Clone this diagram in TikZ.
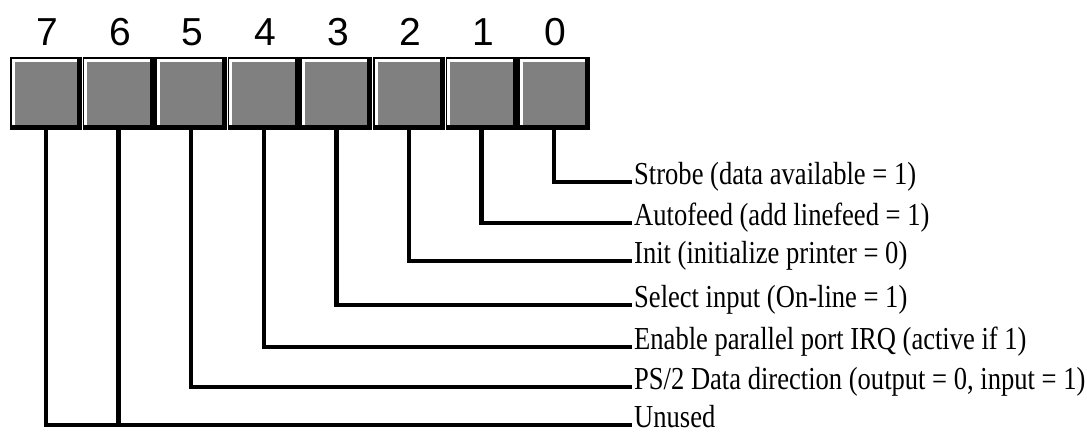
\documentclass[tikz,border=0pt]{standalone}
\usepackage{fontspec}
\newfontfamily\labelfont[FakeStretch=0.83]{Liberation Serif}
\newfontfamily\digitfont{Liberation Sans}
\usetikzlibrary{calc}
\definecolor{cellgray}{HTML}{808080}
\tikzset{
  bitlabel/.style={anchor=mid west, inner xsep=2pt, inner ysep=0pt, font=\labelfont\fontsize{32}{36}\selectfont},
  bitnum/.style={anchor=base, inner sep=0pt, font=\digitfont\fontsize{39}{44}\selectfont},
  wire/.style={line width=4.5pt}
}
% #1 = bit number, #2 = left edge of the cell
\newcommand{\bitcell}[2]{ \fill[black] (#2,57) rectangle (#2+72,130); \fill[white] (#2+1.5,58.5) rectangle (#2+67,125); \fill[cellgray] (#2+4.5,61.5) rectangle (#2+67,125); \node[inner sep=0pt, minimum width=72pt, minimum height=73pt] (b#1) at (#2+36,93.5) {}; \node[bitnum] (n#1) at (#2+37.5,45) {#1};}

\begin{document}
\begin{tikzpicture}[x=1pt,y=-1pt]
    \useasboundingbox (0,0) rectangle (1087,434);
    % cells
    \foreach \i in {0,...,7}{
        \pgfmathsetmacro{\cellx}{10+(7-\i)*72.6}
        \bitcell{\i}{\cellx}
    }

    % text
    \node[bitlabel] (l0) at (632,182) {Strobe (data available = 1)};
    \node[bitlabel] (l1) at (632,223) {Autofeed (add linefeed = 1)};
    \node[bitlabel] (l2) at (632,261) {Init (initialize printer = 0)};
    \node[bitlabel] (l3) at (632,305) {Select input (On-line = 1)};
    \node[bitlabel] (l4) at (632,347) {Enable parallel port IRQ (active if 1)};
    \node[bitlabel] (l5) at (632,387) {PS/2 Data direction (output = 0, input = 1)};
    \node[bitlabel] (l67) at (632,425) {Unused};

    % wires
    \draw[wire] (b0.south) |- (l0.mid west);
    \draw[wire] (b1.south) |- (l1.mid west);
    \draw[wire] (b2.south) |- (l2.mid west);
    \draw[wire] (b3.south) |- (l3.mid west);
    \draw[wire] (b4.south) |- (l4.mid west);
    \draw[wire] (b5.south) |- (l5.mid west);
    \draw[wire] (b6.south) |- (l67.mid west);
    \draw[wire,line width=4pt] (b7.south) |- (l67.mid west);
\end{tikzpicture}
\end{document}
